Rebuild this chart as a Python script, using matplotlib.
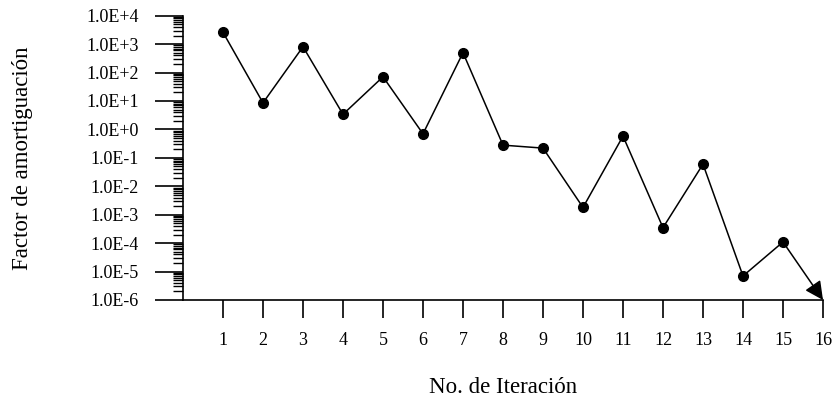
import numpy as np
import matplotlib.pyplot as plt
from matplotlib.ticker import LogLocator, FuncFormatter, NullFormatter

plt.rcParams['font.family'] = ['Liberation Serif', 'DejaVu Serif']

# factor de amortiguacion por iteracion (la ultima sale por debajo de la escala)
iteraciones = list(range(1, 17))
factor = [2600, 8.6, 810, 3.4, 71, 0.70, 500, 0.28, 0.22, 1.8e-3,
          0.58, 3.5e-4, 0.06, 7e-6, 1.1e-4, 1e-6]

fig = plt.figure(figsize=(8.37, 3.98), dpi=100)
ax = fig.add_axes([183 / 837, 1 - 300 / 398, 640 / 837, 284.3 / 398])

ax.plot(iteraciones[:-1], factor[:-1], color='black', lw=1.1,
        marker='o', markersize=7, clip_on=False)
ax.annotate('', xy=(iteraciones[-1], factor[-1]),
            xytext=(iteraciones[-2], factor[-2]),
            arrowprops=dict(arrowstyle='-|>', color='black', lw=1.1,
                            mutation_scale=28, shrinkA=0, shrinkB=0),
            annotation_clip=False)

ax.set_yscale('log')
ax.set_ylim(1e-6, 1e4)
ax.set_xlim(0, 16)

ax.yaxis.set_major_locator(LogLocator(base=10, numticks=20))
ax.yaxis.set_minor_locator(LogLocator(base=10, subs=np.arange(2, 10), numticks=20))
ax.yaxis.set_major_formatter(FuncFormatter(lambda v, p: '1.0E%+d' % round(np.log10(v))))
ax.yaxis.set_minor_formatter(NullFormatter())
ax.set_xticks(iteraciones)

ax.spines['top'].set_visible(False)
ax.spines['right'].set_visible(False)
for s in ('left', 'bottom'):
    ax.spines[s].set_linewidth(1.2)

ax.tick_params(axis='y', which='major', direction='out', length=20, width=1.2,
               pad=12, labelsize=13)
ax.tick_params(axis='y', which='minor', direction='out', length=7, width=1.0)
ax.tick_params(axis='x', which='major', direction='out', length=13, width=1.2,
               pad=10, labelsize=13)

ax.set_xlabel('No. de Iteración', fontsize=16.5, labelpad=20)
ax.set_ylabel('Factor de amortiguación', fontsize=16.5, labelpad=38)

fig.savefig('out.png', dpi=100)
